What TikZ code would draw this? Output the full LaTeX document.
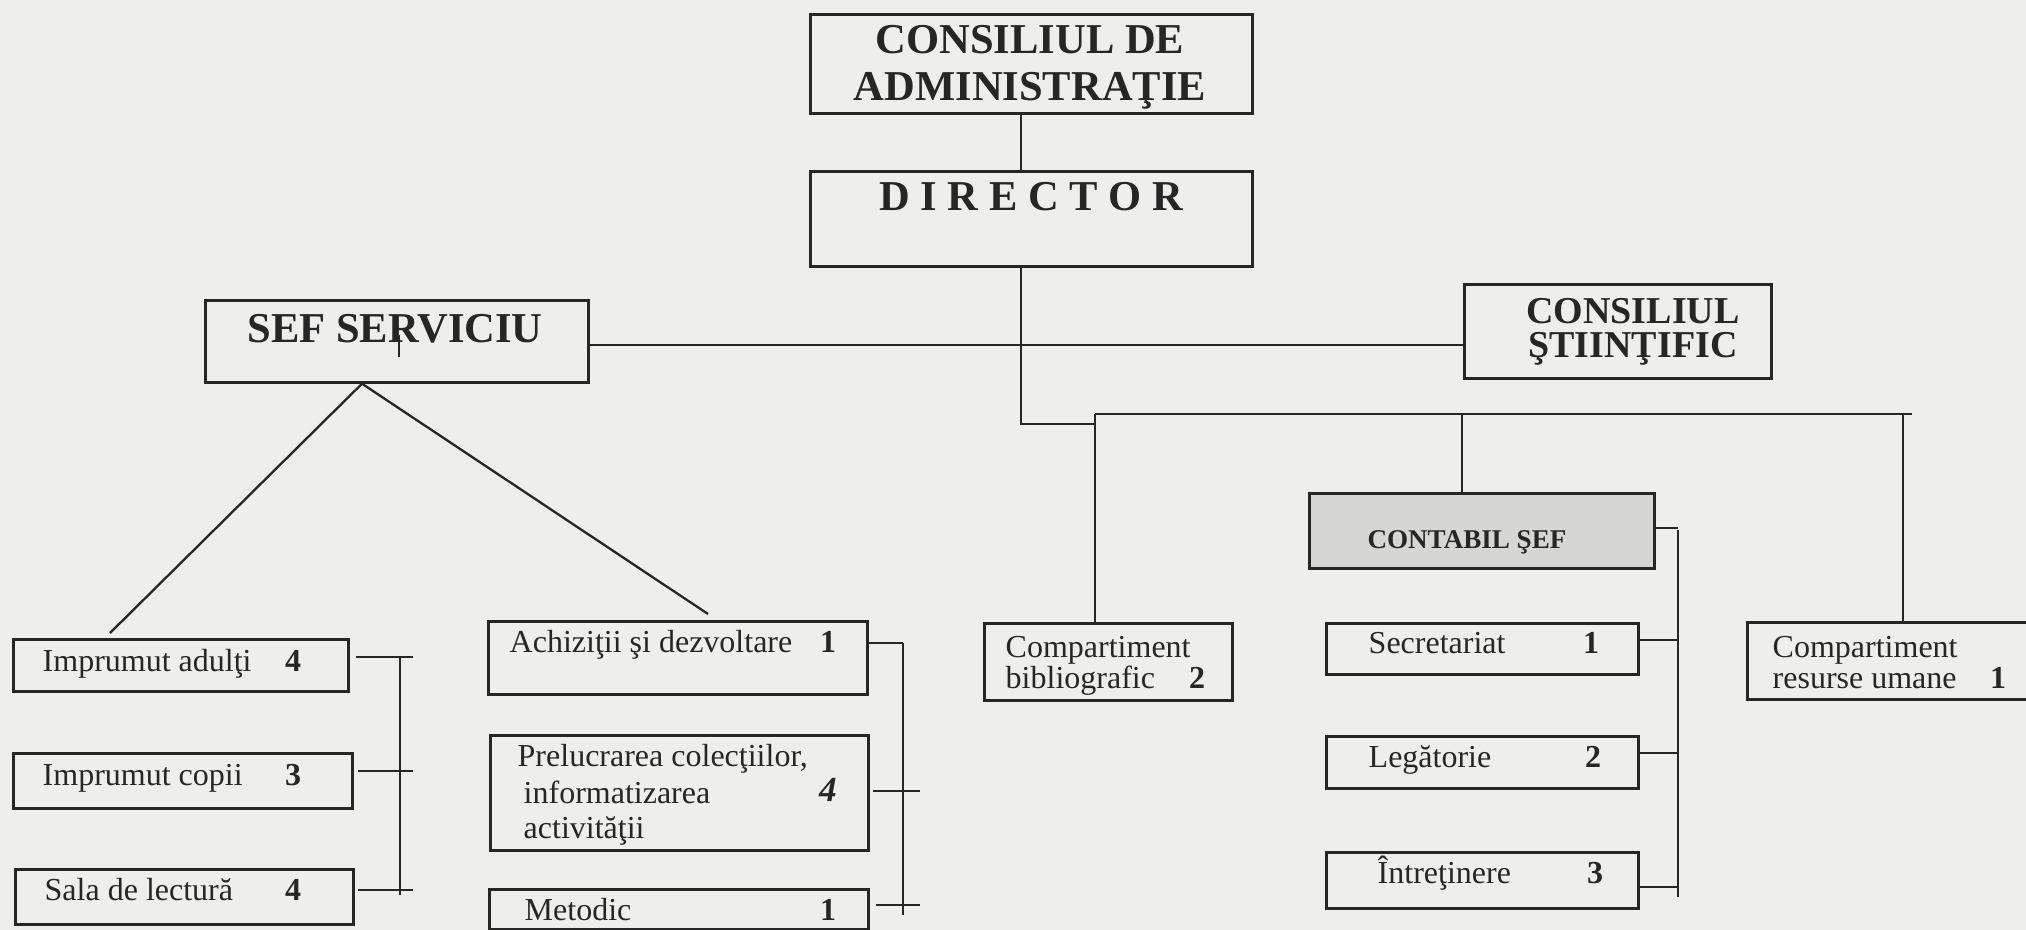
\documentclass[tikz,border=0pt]{standalone}
\usepackage{fontspec}
\setmainfont{Liberation Serif}
\definecolor{ink}{RGB}{38,38,38}
\definecolor{paper}{RGB}{238,238,236}
\definecolor{shade}{RGB}{214,214,212}
\begin{document}
\begin{tikzpicture}[x=0.01cm,y=-0.01cm,
  box/.style={draw=ink,line width=0.75pt,inner sep=0pt,anchor=north west},
  txt/.style={inner sep=0pt,anchor=base west,text=ink,font=\fontsize{9.1}{10}\selectfont},
  num/.style={inner sep=0pt,anchor=base,text=ink,font=\bfseries\fontsize{9.1}{10}\selectfont},
  head/.style={inner sep=0pt,anchor=base,text=ink,font=\bfseries\fontsize{12.1}{14}\selectfont},
  headsm/.style={inner sep=0pt,anchor=base,text=ink,font=\bfseries\fontsize{10.8}{12}\selectfont},
  ln/.style={draw=ink,line width=0.65pt}]
\useasboundingbox (0,0) rectangle (2026,930);
\fill[paper] (0,0) rectangle (2026,930);
\clip (0,0) rectangle (2026,930);

% top boxes
\node[box,minimum width=4.42cm,minimum height=0.99cm] (cadm) at (809,13) {};
\node[head] (cadm1) at (1030,53) {CONSILIUL DE};
\node[head] (cadm2) at (1030,100) {ADMINISTRAŢIE};
\node[box,minimum width=4.42cm,minimum height=0.95cm] (dir) at (809,170) {};
\node[head] (dirt) at (1031,210) {D I R E C T O R};

\node[box,minimum width=3.83cm,minimum height=0.82cm] (sef) at (204,299) {};
\node[head] (seft) at (395,342) {SEF SERVICIU};
\draw[ln] (399,335) -- (399,357);

\node[box,minimum width=3.07cm,minimum height=0.94cm] (cst) at (1463,283) {};
\node[headsm] (cst1) at (1633,323) {CONSILIUL};
\node[headsm] (cst2) at (1633,357) {ŞTIINŢIFIC};

\node[box,fill=shade,minimum width=3.45cm,minimum height=0.75cm] (cont) at (1308,492) {};
\node[inner sep=0pt,anchor=base,text=ink,font=\bfseries\fontsize{7.7}{9}\selectfont] (contt) at (1467,548) {CONTABIL ŞEF};

% middle-right boxes
\node[box,minimum width=2.48cm,minimum height=0.77cm] (bibl) at (983,622) {};
\node[txt] (bibl1) at (1005,657) {Compartiment};
\node[txt] (bibl2) at (1005,688) {bibliografic};
\node[num] (bibln) at (1197,688) {2};

\node[box,minimum width=3.4cm,minimum height=0.77cm] (res) at (1746,621) {};
\node[txt] (res1) at (1772,657) {Compartiment};
\node[txt] (res2) at (1772,688) {resurse umane};
\node[num] (resn) at (1998,688) {1};

\node[box,minimum width=3.12cm,minimum height=0.51cm] (sec) at (1325,622) {};
\node[txt] (sect) at (1368,653) {Secretariat};
\node[num] (secn) at (1591,653) {1};
\node[box,minimum width=3.12cm,minimum height=0.52cm] (leg) at (1325,735) {};
\node[txt] (legt) at (1368,767) {Legătorie};
\node[num] (legn) at (1593,767) {2};
\node[box,minimum width=3.12cm,minimum height=0.56cm] (intr) at (1325,851) {};
\node[txt] (intrt) at (1377,883) {Întreţinere};
\node[num] (intrn) at (1595,883) {3};

% left boxes
\node[box,minimum width=3.35cm,minimum height=0.52cm] (imp1) at (12,638) {};
\node[txt] (imp1t) at (42,671) {Imprumut adulţi};
\node[num] (imp1n) at (293,671) {4};
\node[box,minimum width=3.39cm,minimum height=0.55cm] (imp2) at (12,752) {};
\node[txt] (imp2t) at (42,785) {Imprumut copii};
\node[num] (imp2n) at (293,785) {3};
\node[box,minimum width=3.38cm,minimum height=0.55cm] (sala) at (14,868) {};
\node[txt] (salat) at (44,900) {Sala de lectură};
\node[num] (salan) at (293,900) {4};

\node[box,minimum width=3.79cm,minimum height=0.73cm] (ach) at (487,620) {};
\node[txt] (acht) at (509,652) {Achiziţii şi dezvoltare};
\node[num] (achn) at (828,652) {1};
\node[box,minimum width=3.78cm,minimum height=1.15cm] (prel) at (489,734) {};
\node[txt] (prel1) at (517,766) {Prelucrarea colecţiilor,};
\node[txt] (prel2) at (523,803) {informatizarea};
\node[txt] (prel3) at (523,838) {activităţii};
\node[num,font=\bfseries\itshape\fontsize{10}{11}\selectfont] (preln) at (828,801) {4};
\node[box,minimum width=3.79cm,minimum height=0.40cm] (met) at (488,888) {};
\node[txt] (mett) at (524,920) {Metodic};
\node[num] (metn) at (828,920) {1};

% connectors: top spine
\coordinate (vx) at (1021,0);
\draw[ln] (cadm.south -| vx) -- (dir.north -| vx);
\coordinate (e1) at (1095,424);
\draw[ln] (dir.south -| vx) |- (e1);
\coordinate (h) at (0,345);
\draw[ln] (sef.east |- h) -- (cst.west |- h);

% bus to right side
\coordinate (b0) at (1095,414);
\coordinate (b1) at (1912,414);
\coordinate (bc) at (1462,414);
\coordinate (br) at (1903,414);
\draw[ln] (b0) -- (b1);
\draw[ln] (b0) -- (bibl.north -| b0);
\draw[ln] (bc) -- (cont.north -| bc);
\draw[ln] (br) -- (res.north -| br);

% diagonals from SEF SERVICIU
\coordinate (apx) at (362,0);
\coordinate (dl) at (110,633);
\coordinate (dr) at (708,614);
\draw[ln] (dl) -- (sef.south -| apx) -- (dr);

% left bracket
\coordinate (lb) at (400,0);
\coordinate (lbe) at (413,0);
\coordinate (ls1) at (0,657);
\coordinate (ls2) at (0,771);
\coordinate (ls3) at (0,890);
\coordinate (lsb) at (0,895);
\draw[ln] ([xshift=0.06cm]imp1.east |- ls1) -- (lbe |- ls1);
\draw[ln] ([xshift=0.04cm]imp2.east |- ls2) -- (lbe |- ls2);
\draw[ln] ([xshift=0.03cm]sala.east |- ls3) -- (lbe |- ls3);
\draw[ln] (lb |- ls1) -- (lb |- lsb);

% middle bracket
\coordinate (mb) at (903,0);
\coordinate (mbe) at (920,0);
\coordinate (ms1) at (0,643);
\coordinate (ms2) at (0,791);
\coordinate (ms3) at (0,905);
\coordinate (msb) at (0,915);
\draw[ln] (ach.east |- ms1) -- (mb |- ms1);
\draw[ln] ([xshift=0.03cm]prel.east |- ms2) -- (mbe |- ms2);
\draw[ln] ([xshift=0.06cm]met.east |- ms3) -- (mbe |- ms3);
\draw[ln] (mb |- ms1) -- (mb |- msb);

% right bracket (contabil)
\coordinate (rb) at (1678,0);
\coordinate (rs0) at (0,528);
\coordinate (rst) at (0,530);
\coordinate (rs1) at (0,640);
\coordinate (rs2) at (0,753);
\coordinate (rs3) at (0,887);
\coordinate (rsb) at (0,897);
\draw[ln] (cont.east |- rs0) -- (rb |- rs0);
\draw[ln] (sec.east |- rs1) -- (rb |- rs1);
\draw[ln] (leg.east |- rs2) -- (rb |- rs2);
\draw[ln] (intr.east |- rs3) -- (rb |- rs3);
\draw[ln] (rb |- rst) -- (rb |- rsb);
\end{tikzpicture}
\end{document}
